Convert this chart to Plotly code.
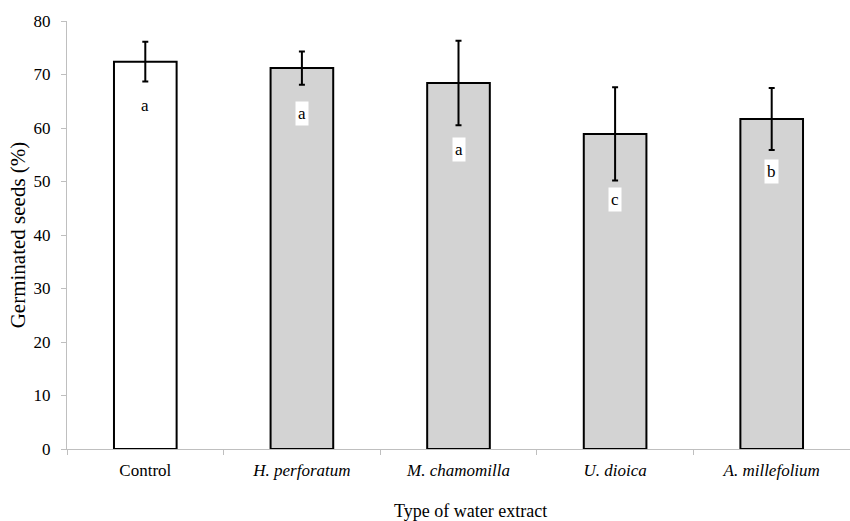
import plotly.graph_objects as go

# Germination of seeds under different water extracts
categories = ["Control", "H. perforatum", "M. chamomilla", "U. dioica", "A. millefolium"]
italic_names = [False, True, True, True, True]
germinated = [72.4, 71.2, 68.4, 58.9, 61.7]
std_dev = [3.7, 3.1, 7.9, 8.7, 5.8]
letters = ["a", "a", "a", "c", "b"]
letter_y = [64.2, 62.7, 55.9, 46.6, 51.9]
fill_colors = ["#ffffff", "#d3d3d3", "#d3d3d3", "#d3d3d3", "#d3d3d3"]
y_ticks = [0, 10, 20, 30, 40, 50, 60, 70, 80]

tick_text = [f"<i>{c}</i>" if it else c for c, it in zip(categories, italic_names)]

FONT = "Liberation Serif"
AXIS_GRAY = "#bfbfbf"

fig = go.Figure()
fig.add_trace(go.Bar(
    x=categories,
    y=germinated,
    marker=dict(color=fill_colors, line=dict(color="black", width=2)),
    error_y=dict(type="data", array=std_dev, visible=True,
                 color="black", thickness=2, width=3),
    width=0.40,
    showlegend=False,
))

# significance letters, boxed in white on the grey bars
for cat, txt, ly, fc in zip(categories, letters, letter_y, fill_colors):
    fig.add_annotation(
        x=cat, y=ly, text=txt, showarrow=False,
        font=dict(family=FONT, size=17, color="black"),
        bgcolor="white" if fc != "#ffffff" else "rgba(0,0,0,0)",
        borderpad=2,
    )

# x-axis title, set slightly right of the plot centre
fig.add_annotation(
    text="Type of water extract", xref="paper", yref="paper",
    x=0.515, y=0, yshift=-62, xanchor="center", yanchor="middle",
    showarrow=False, font=dict(family=FONT, size=18, color="black"),
)

fig.update_layout(
    width=850, height=521,
    margin=dict(l=67, r=0, t=21, b=72),
    plot_bgcolor="white",
    paper_bgcolor="white",
    font=dict(family=FONT, size=17, color="black"),
    xaxis=dict(
        tickmode="array", tickvals=categories, ticktext=tick_text,
        range=[-0.5, 4.5],
        showline=True, linecolor=AXIS_GRAY, linewidth=1,
        ticks="outside", tickson="boundaries", ticklen=5, tickcolor=AXIS_GRAY,
        ticklabelstandoff=6,
        tickfont=dict(family=FONT, size=17),
        showgrid=False, zeroline=False,
    ),
    yaxis=dict(
        range=[0, 80], tickvals=y_ticks,
        showline=True, linecolor=AXIS_GRAY, linewidth=1,
        ticks="outside", ticklen=5, tickcolor=AXIS_GRAY,
        ticklabelstandoff=7,
        tickfont=dict(family=FONT, size=17),
        showgrid=False, zeroline=False,
        title=dict(text="Germinated seeds (%)", standoff=2,
                   font=dict(family=FONT, size=21)),
    ),
)

fig.write_html("out.html")
